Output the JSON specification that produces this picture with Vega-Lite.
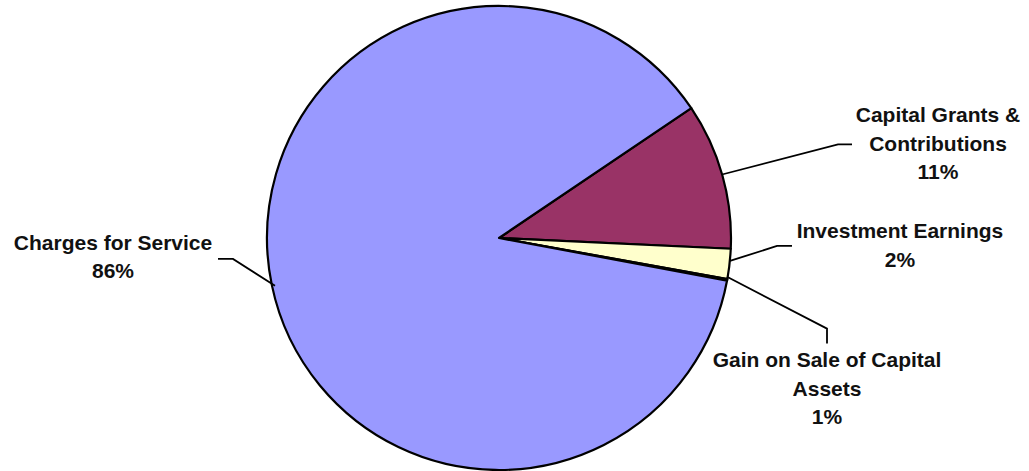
{
  "$schema": "https://vega.github.io/schema/vega-lite/v6.json",
  "width": 1029,
  "height": 471,
  "padding": 0,
  "autosize": {"type": "fit", "contains": "padding"},
  "background": "white",
  "config": {"view": {"stroke": null}},
  "datasets": {
    "slices": [
      {"source": "Capital Grants & Contributions", "share": 10.19, "sort": 1},
      {"source": "Investment Earnings", "share": 2.1, "sort": 2},
      {"source": "Gain on Sale of Capital Assets", "share": 0.1, "sort": 3},
      {"source": "Charges for Service", "share": 87.61, "sort": 4}
    ],
    "leaders": [
      {"source": "Capital Grants & Contributions", "i": 0, "u": 0.9655, "v": 0.2759},
      {"source": "Capital Grants & Contributions", "i": 1, "u": 1.4612, "v": 0.4052},
      {"source": "Capital Grants & Contributions", "i": 2, "u": 1.5216, "v": 0.4052},
      {"source": "Investment Earnings", "i": 0, "u": 0.9957, "v": -0.0991},
      {"source": "Investment Earnings", "i": 1, "u": 1.1983, "v": -0.0345},
      {"source": "Investment Earnings", "i": 2, "u": 1.2629, "v": -0.0345},
      {"source": "Gain on Sale of Capital Assets", "i": 0, "u": 0.9828, "v": -0.1681},
      {"source": "Gain on Sale of Capital Assets", "i": 1, "u": 1.4138, "v": -0.3922},
      {"source": "Gain on Sale of Capital Assets", "i": 2, "u": 1.4138, "v": -0.4569},
      {"source": "Charges for Service", "i": 0, "u": -0.9655, "v": -0.2069},
      {"source": "Charges for Service", "i": 1, "u": -1.1466, "v": -0.0905},
      {"source": "Charges for Service", "i": 2, "u": -1.2112, "v": -0.0905}
    ],
    "labels": [
      {"label": "Capital Grants &\nContributions\n11%", "u": 1.8922, "v": 0.5259},
      {"label": "Investment Earnings\n2%", "u": 1.7284, "v": 0.0259},
      {"label": "Gain on Sale of Capital\nAssets\n1%", "u": 1.4138, "v": -0.5345},
      {"label": "Charges for Service\n86%", "u": -1.6638, "v": -0.0259}
    ]
  },
  "layer": [
    {
      "data": {"name": "slices"},
      "mark": {"type": "arc", "outerRadius": 232, "stroke": "black", "strokeWidth": 2.2, "strokeJoin": "round"},
      "encoding": {
        "x": {"datum": 0, "type": "quantitative", "scale": {"domain": [-2.1509, 2.2845], "nice": false, "zero": false}, "axis": null},
        "y": {"datum": 0, "type": "quantitative", "scale": {"domain": [-1.0, 1.0302], "nice": false, "zero": false}, "axis": null},
        "theta": {"field": "share", "type": "quantitative", "stack": true, "scale": {"range": [0.9769, 7.2601]}},
        "order": {"field": "sort", "type": "quantitative"},
        "color": {
          "field": "source", "type": "nominal", "legend": null,
          "scale": {
            "domain": ["Capital Grants & Contributions", "Investment Earnings", "Gain on Sale of Capital Assets", "Charges for Service"],
            "range": ["#993366", "#FFFFCC", "#CCFFFF", "#9999FF"]
          }
        }
      }
    },
    {
      "data": {"name": "leaders"},
      "mark": {"type": "line", "color": "black", "strokeWidth": 1.8},
      "encoding": {
        "x": {"field": "u", "type": "quantitative"},
        "y": {"field": "v", "type": "quantitative"},
        "detail": {"field": "source"},
        "order": {"field": "i", "type": "quantitative"}
      }
    },
    {
      "data": {"name": "labels"},
      "mark": {"type": "text", "lineBreak": "\n", "font": "Liberation Sans", "fontWeight": "bold", "fontSize": 21, "lineHeight": 28.5, "align": "center", "baseline": "middle", "color": "#111111"},
      "encoding": {
        "x": {"field": "u", "type": "quantitative"},
        "y": {"field": "v", "type": "quantitative"},
        "text": {"field": "label"}
      }
    }
  ]
}
